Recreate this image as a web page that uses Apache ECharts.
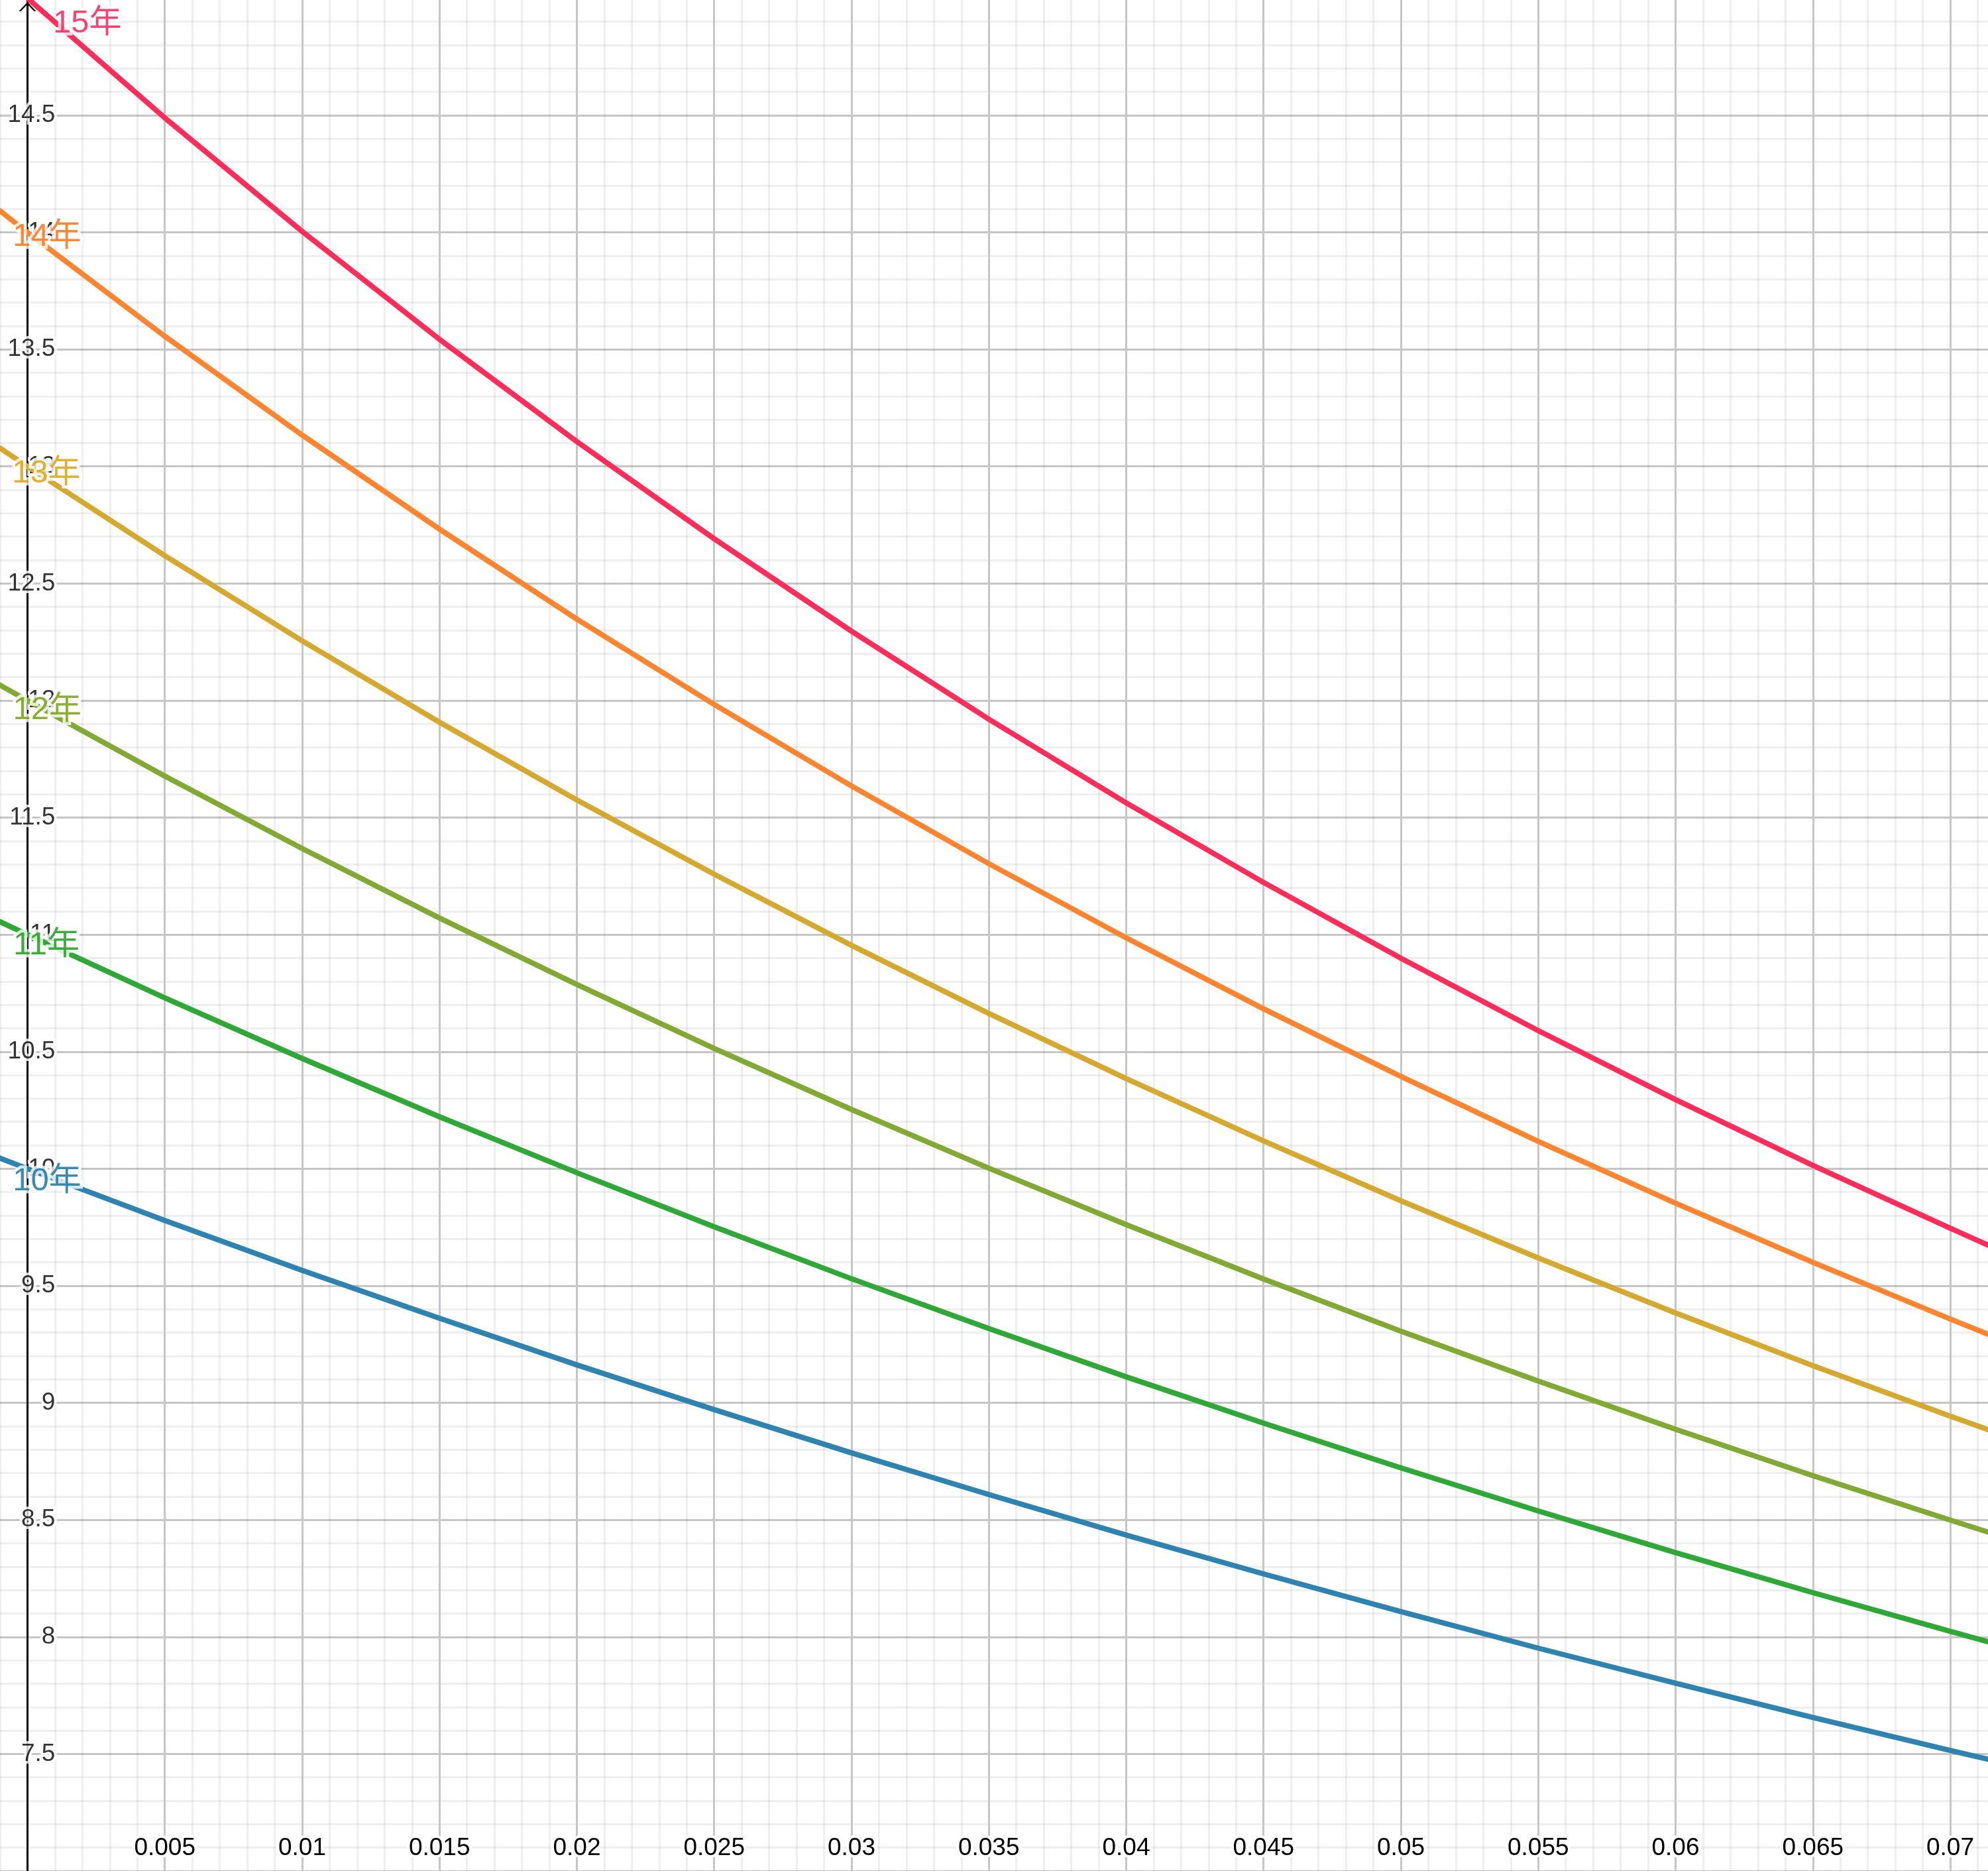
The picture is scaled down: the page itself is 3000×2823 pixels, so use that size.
<!DOCTYPE html>
<html>
<head>
<meta charset="utf-8">
<style>
  html, body { margin: 0; padding: 0; background: #ffffff; }
  #chart { width: 3000px; height: 2823px; }
</style>
<script src="https://cdn.jsdelivr.net/npm/echarts@6/dist/echarts.min.js"></script>
</head>
<body>
<div id="chart"></div>
<script>
// Interest rate (x) sample points
var rates = [-0.001, 0, 0.005, 0.01, 0.015, 0.02, 0.025, 0.03, 0.035, 0.04, 0.045, 0.05, 0.055, 0.06, 0.065, 0.07, 0.0715];
// Values at those rates
var y10 = [10.045, 10, 9.779, 9.566, 9.361, 9.162, 8.971, 8.786, 8.608, 8.435, 8.269, 8.108, 7.952, 7.802, 7.656, 7.515, 7.474];
var y11 = [11.055, 11, 10.730, 10.471, 10.222, 9.983, 9.752, 9.530, 9.317, 9.111, 8.913, 8.722, 8.538, 8.360, 8.189, 8.024, 7.975];
var y12 = [12.066, 12, 11.677, 11.368, 11.071, 10.787, 10.514, 10.253, 10.002, 9.761, 9.529, 9.306, 9.093, 8.887, 8.689, 8.499, 8.443];
var y13 = [13.078, 13, 12.619, 12.255, 11.907, 11.575, 11.258, 10.954, 10.663, 10.385, 10.119, 9.863, 9.619, 9.384, 9.159, 8.943, 8.880];
var y14 = [14.092, 14, 13.556, 13.134, 12.732, 12.348, 11.983, 11.635, 11.303, 10.986, 10.683, 10.394, 10.117, 9.853, 9.600, 9.358, 9.287];
var y15 = [15.106, 15, 14.489, 14.004, 13.543, 13.106, 12.691, 12.296, 11.920, 11.563, 11.223, 10.899, 10.590, 10.295, 10.014, 9.746, 9.667];

var seriesNames = ['10年', '11年', '12年', '13年', '14年', '15年'];
var seriesValues = [y10, y11, y12, y13, y14, y15];
var lineColors = ['#2f83b0', '#2fa838', '#81a934', '#d5a930', '#fe8530', '#fc2d5b'];
var labelColors = ['#0a6e9e', '#0d9a0d', '#6b9c00', '#d69d00', '#ff6a00', '#ff1050'];
// Where each curve's name label sits (x, y in data units)
var labelX = [0.00071, 0.00069, 0.00072, 0.00069, 0.00071, 0.00218];
var labelY = [9.947, 10.954, 11.960, 12.969, 13.980, 14.893];

// Y tick labels (drawn beside the y axis at x = 0)
var yTickLabels = [7.5, 8, 8.5, 9, 9.5, 10, 10.5, 11, 11.5, 12, 12.5, 13, 13.5, 14, 14.5];

// Axis settings (visible window); grid lines every 0.001 / 0.1, labels every 0.005
var xMin = -0.001, xMax = 0.071375, xGridStep = 0.001, xLabelStep = 0.005;
var yMin = 7, yMax = 14.9924, yGridStep = 0.1;

var FONT = "'Liberation Sans', Arial, 'Noto Sans CJK SC', sans-serif";
var MAJOR = '#c6c6c6';
var MINOR = 'rgba(0,0,0,0.062)';

function isMultiple(v, step) {
  var q = v / step;
  return Math.abs(q - Math.round(q)) < 1e-6;
}

var chart = echarts.init(document.getElementById('chart'), null, { renderer: 'canvas' });

var series = [];

// y tick labels
series.push({
  type: 'scatter',
  data: yTickLabels.map(function (v) { return [0, v]; }),
  symbolSize: 0,
  z: 2,
  silent: true,
  label: {
    show: true,
    position: 'inside',
    offset: [42, 0],
    align: 'right',
    verticalAlign: 'middle',
    formatter: function (p) { return String(p.value[1]); },
    fontSize: 37,
    fontFamily: FONT,
    color: '#000000',
    textBorderColor: '#ffffff',
    textBorderWidth: 8
  },
  emphasis: { disabled: true }
});

for (var i = 0; i < seriesNames.length; i++) {
  var pts = [];
  for (var j = 0; j < rates.length; j++) pts.push([rates[j], seriesValues[i][j]]);
  series.push({
    type: 'line',
    name: seriesNames[i],
    data: pts,
    smooth: false,
    showSymbol: false,
    symbol: 'none',
    lineStyle: { width: 8, color: lineColors[i], cap: 'round', join: 'round' },
    emphasis: { disabled: true },
    z: 3
  });
}

var labelData = [];
for (var k = 0; k < seriesNames.length; k++) {
  labelData.push({
    value: [labelX[k], labelY[k]],
    name: seriesNames[k],
    label: { color: labelColors[k] }
  });
}
series.push({
  type: 'scatter',
  data: labelData,
  symbolSize: 0,
  z: 10,
  silent: true,
  label: {
    show: true,
    position: 'inside',
    formatter: function (p) { return p.name; },
    fontSize: 49,
    fontFamily: FONT,
    align: 'center',
    verticalAlign: 'middle',
    textBorderColor: '#ffffff',
    textBorderWidth: 9
  },
  emphasis: { disabled: true }
});

var option = {
  animation: false,
  backgroundColor: '#ffffff',
  grid: { left: 0, right: 0, top: 0, bottom: 0, containLabel: false, outerBoundsMode: 'none' },
  xAxis: {
    type: 'value',
    min: xMin, max: xMax, interval: xGridStep,
    axisLine: { show: false, onZero: false },
    axisTick: { show: false },
    axisLabel: {
      show: true,
      inside: true,
      margin: 16,
      fontSize: 37,
      fontFamily: FONT,
      color: '#000000',
      textBorderColor: '#ffffff',
      textBorderWidth: 8,
      formatter: function (v) {
        if (v <= 1e-9) return '';
        if (!isMultiple(v, xLabelStep)) return '';
        return String(+v.toFixed(3));
      }
    },
    splitLine: {
      show: true,
      showMaxLine: false,
      lineStyle: { color: [MINOR, MAJOR, MINOR, MINOR, MINOR], width: 3 }
    }
  },
  yAxis: {
    type: 'value',
    min: yMin, max: yMax, interval: yGridStep,
    axisLine: {
      show: true,
      onZero: true,
      lineStyle: { color: '#000000', width: 3 },
      symbol: ['none', 'path://M0,14 L13,0 L26,14 L23,14 L13,3.6 L3,14 Z'],
      symbolSize: [27, 14],
      symbolOffset: [0, -10]
    },
    axisTick: { show: false },
    axisLabel: { show: false },
    splitLine: {
      show: true,
      showMaxLine: false,
      lineStyle: { color: [MAJOR, MINOR, MINOR, MINOR, MINOR], width: 3 }
    }
  },
  series: series
};

chart.setOption(option);
</script>
</body>
</html>
